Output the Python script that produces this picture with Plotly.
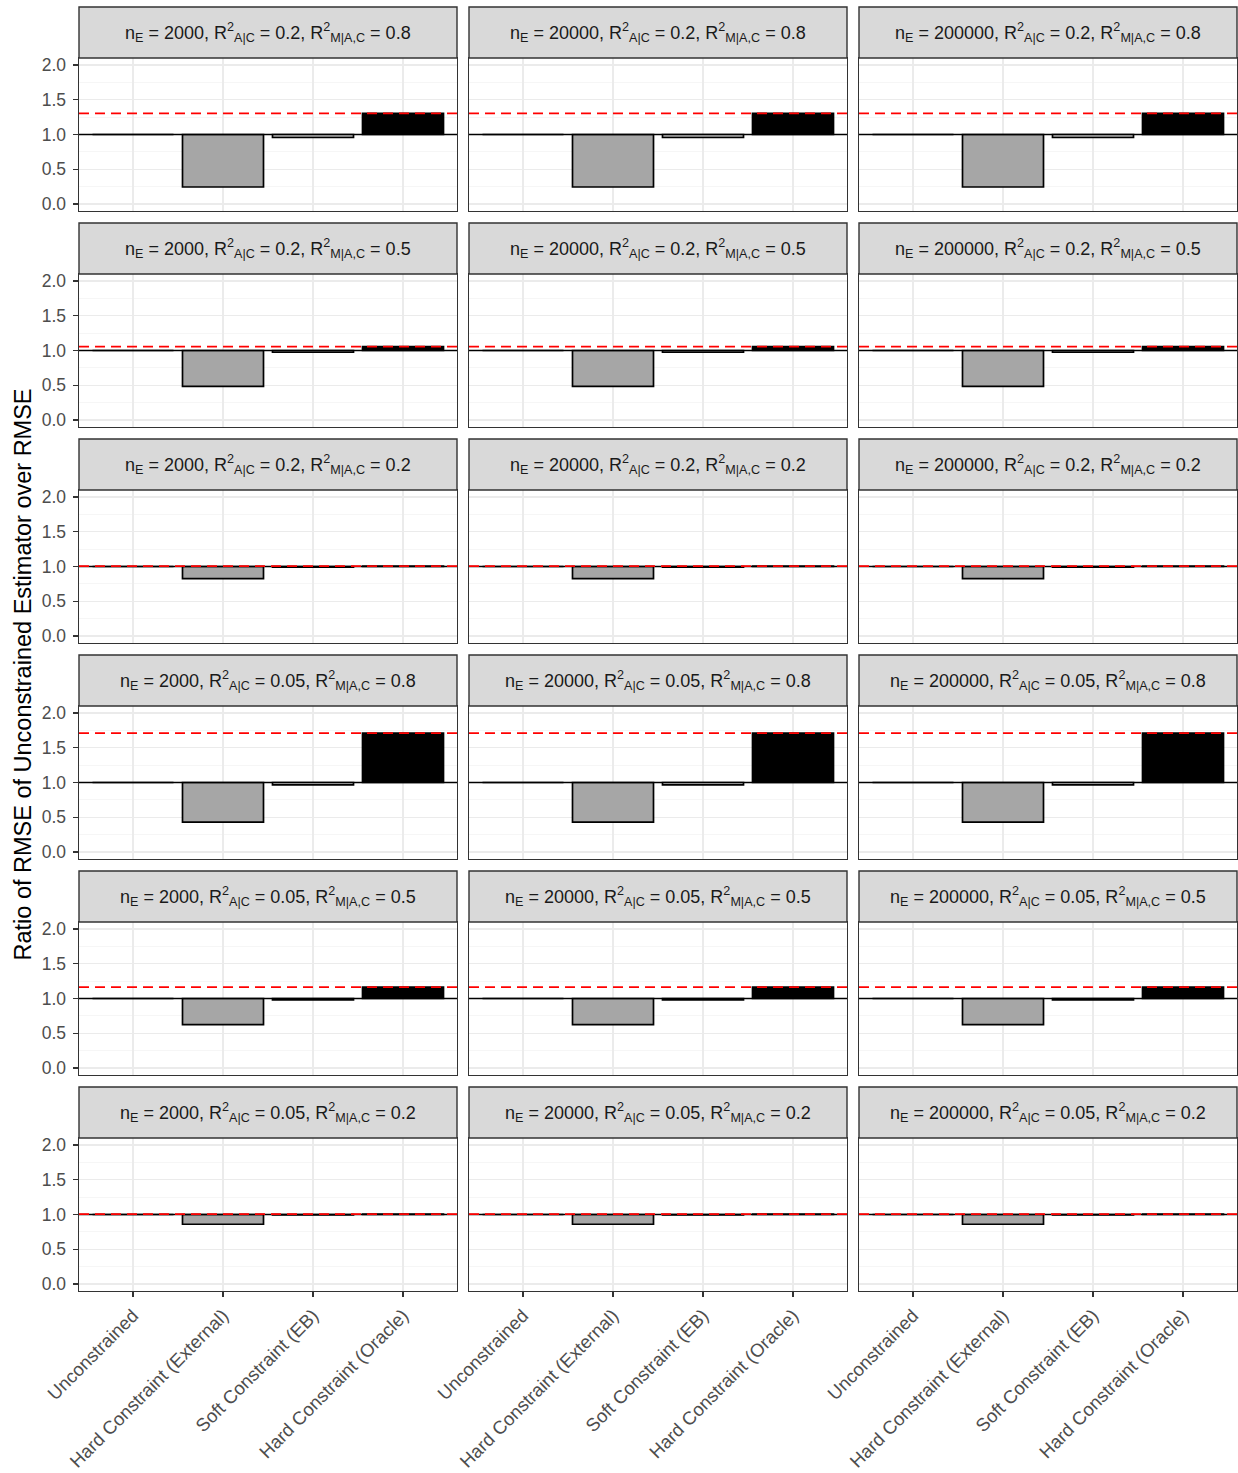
import plotly.graph_objects as go

# ---------------- data ----------------
categories = ["Unconstrained", "Hard Constraint (External)",
              "Soft Constraint (EB)", "Hard Constraint (Oracle)"]
n_e_values = ["2000", "20000", "200000"]
r2_ac_values = ["0.2", "0.2", "0.2", "0.05", "0.05", "0.05"]
r2_mac_values = ["0.8", "0.5", "0.2", "0.8", "0.5", "0.2"]

# ratio values per facet row (identical across n_E columns)
unconstrained = [1.0, 1.0, 1.0, 1.0, 1.0, 1.0]
external = [0.245, 0.485, 0.825, 0.43, 0.625, 0.86]
soft_eb = [0.96, 0.975, 0.99, 0.965, 0.98, 0.995]
oracle = [1.305, 1.055, 1.005, 1.71, 1.165, 1.005]

y_ticks = [0.0, 0.5, 1.0, 1.5, 2.0]
y_minor = [0.25, 0.75, 1.25, 1.75]

# ---------------- layout geometry ----------------
W, H = 1238, 1473
L, R, T, B = 79, 1, 7, 182
pw, ph = W - L - R, H - T - B
base_px = H - B
col_px = [(79, 457), (469, 847), (859, 1237)]

FONT = "Liberation Sans, Arial, Helvetica, sans-serif"
fill_colors = ["white", "#A6A6A6", "white", "black"]

fig = go.Figure()
layout = dict(
    width=W, height=H, autosize=False,
    margin=dict(l=L, r=R, t=T, b=B, pad=0),
    paper_bgcolor="white", plot_bgcolor="white",
    showlegend=False, bargap=0.1,
    font=dict(family=FONT, size=17, color="#4D4D4D"),
)
shapes = []
annotations = []

k = 0
for r in range(6):
    panel_top = 58 + 216 * r
    panel_bot = 211 + 216 * r
    strip_top = 7 + 216 * r
    ydom = [(base_px - panel_bot) / ph, (base_px - panel_top) / ph]
    vals = [unconstrained[r], external[r], soft_eb[r], oracle[r]]
    for c in range(3):
        k += 1
        xa = "x" if k == 1 else f"x{k}"
        ya = "y" if k == 1 else f"y{k}"
        xkey = "xaxis" if k == 1 else f"xaxis{k}"
        ykey = "yaxis" if k == 1 else f"yaxis{k}"
        xdom = [(col_px[c][0] - L) / pw, (col_px[c][1] - L) / pw]

        fig.add_trace(go.Bar(
            x=categories, y=[v - 1.0 for v in vals], base=1.0,
            width=0.9, xaxis=xa, yaxis=ya,
            marker=dict(color=fill_colors, line=dict(color="black", width=1.7)),
            hoverinfo="skip",
        ))

        bottom = (r == 5)
        left = (c == 0)
        layout[xkey] = dict(
            domain=xdom, anchor=ya, type="category",
            categoryorder="array", categoryarray=categories,
            range=[-0.6, 3.6],
            showgrid=True, gridcolor="#EBEBEB", gridwidth=1.2,
            showline=True, mirror=True, linecolor="#333333", linewidth=1.4,
            ticks="outside" if bottom else "", ticklen=5, tickwidth=1.2,
            tickcolor="#333333",
            showticklabels=bottom, tickangle=-45,
            tickfont=dict(family=FONT, size=18.5, color="#4D4D4D"),
            zeroline=False, fixedrange=True,
        )
        layout[ykey] = dict(
            domain=ydom, anchor=xa, range=[-0.1, 2.1],
            tickvals=y_ticks, ticktext=[f"{v:.1f}" for v in y_ticks],
            showgrid=True, gridcolor="#EBEBEB", gridwidth=1.2,
            minor=dict(tickvals=y_minor, showgrid=True, gridcolor="#F0F0F0",
                       gridwidth=0.6, ticks=""),
            showline=True, mirror=True, linecolor="#333333", linewidth=1.4,
            ticks="outside" if left else "", ticklen=5, tickwidth=1.2,
            tickcolor="#333333", ticklabelstandoff=3,
            showticklabels=left,
            tickfont=dict(family=FONT, size=17.5, color="#4D4D4D"),
            zeroline=False, fixedrange=True,
        )

        # reference line at 1 and oracle dashed line
        shapes.append(dict(type="line", xref=f"{xa} domain", yref=ya,
                           x0=0, x1=1, y0=1.0, y1=1.0,
                           line=dict(color="black", width=1.4), layer="above"))
        shapes.append(dict(type="line", xref=f"{xa} domain", yref=ya,
                           x0=0, x1=1, y0=oracle[r], y1=oracle[r],
                           line=dict(color="#FF0000", width=1.7, dash="10px,6px"),
                           layer="above"))

        # strip
        sy0 = (base_px - panel_top) / ph
        sy1 = (base_px - strip_top) / ph
        shapes.append(dict(type="rect", xref="paper", yref="paper",
                           x0=xdom[0], x1=xdom[1], y0=sy0, y1=sy1,
                           fillcolor="#D9D9D9",
                           line=dict(color="#333333", width=1.4), layer="above"))
        label = (f"n<sub>E</sub> = {n_e_values[c]}, "
                 f"R<sup>2</sup><sub>A|C</sub> = {r2_ac_values[r]}, "
                 f"R<sup>2</sup><sub>M|A,C</sub> = {r2_mac_values[r]}")
        annotations.append(dict(text=label, xref="paper", yref="paper",
                                x=(xdom[0] + xdom[1]) / 2, y=(sy0 + sy1) / 2,
                                xanchor="center", yanchor="middle",
                                showarrow=False,
                                font=dict(family=FONT, size=18, color="#1A1A1A")))

# y axis title
annotations.append(dict(
    text="Ratio of RMSE of Unconstrained Estimator over RMSE",
    xref="paper", yref="paper",
    x=(22 - L) / pw, y=(base_px - 674.5) / ph,
    xanchor="center", yanchor="middle", textangle=-90, showarrow=False,
    font=dict(family=FONT, size=23.5, color="black")))

layout["shapes"] = shapes
layout["annotations"] = annotations
fig.update_layout(**layout)
fig.write_html("out.html",
               config={"displayModeBar": False, "staticPlot": True},
               post_script="document.body.style.margin='0';document.body.style.padding='0';")
